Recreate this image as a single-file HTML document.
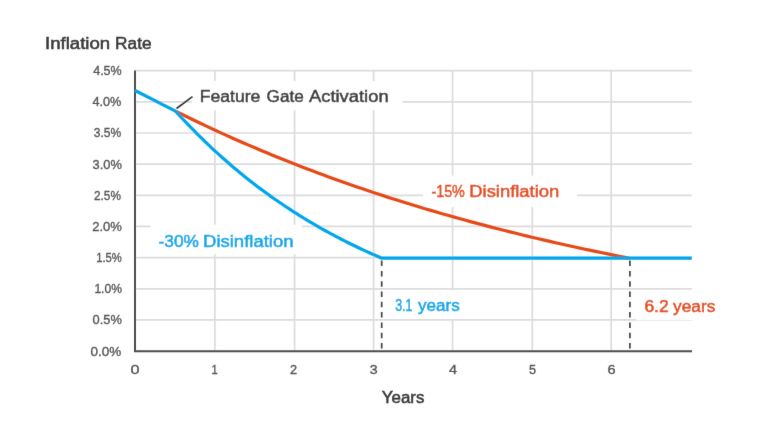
<!DOCTYPE html>
<html><head><meta charset="utf-8"><title>Inflation Rate</title>
<style>
html,body{margin:0;padding:0;background:#fff;width:768px;height:436px;overflow:hidden;}
svg{display:block;}
#w{width:768px;height:436px;}
text{font-family:"Liberation Sans",sans-serif;stroke-width:0.5px;paint-order:stroke;}
.tk text{stroke-width:0.35px;}
</style></head>
<body>
<div id="w"><svg width="768" height="436" viewBox="0 0 768 436">
<defs><filter id="bl" x="0" y="0" width="768" height="436" filterUnits="userSpaceOnUse"><feConvolveMatrix order="3" kernelMatrix="0.00524 0.06192 0.00524 0.06192 0.73137 0.06192 0.00524 0.06192 0.00524" divisor="1" preserveAlpha="false" edgeMode="none"/></filter></defs>
<rect width="768" height="436" fill="#fff"/>
<g filter="url(#bl)">
<g stroke="#dcdcdc" stroke-width="1.7" fill="none"><line x1="135" x2="691.8" y1="319.94" y2="319.94"/><line x1="135" x2="691.8" y1="288.78" y2="288.78"/><line x1="135" x2="691.8" y1="257.62" y2="257.62"/><line x1="135" x2="691.8" y1="226.46" y2="226.46"/><line x1="135" x2="691.8" y1="195.30" y2="195.30"/><line x1="135" x2="691.8" y1="164.14" y2="164.14"/><line x1="135" x2="691.8" y1="132.98" y2="132.98"/><line x1="135" x2="691.8" y1="101.82" y2="101.82"/><line x1="135" x2="691.8" y1="70.66" y2="70.66"/><line x1="214.9" x2="214.9" y1="70.6" y2="351"/><line x1="294.6" x2="294.6" y1="70.6" y2="351"/><line x1="373.6" x2="373.6" y1="70.6" y2="351"/><line x1="452.6" x2="452.6" y1="70.6" y2="351"/><line x1="532.3" x2="532.3" y1="70.6" y2="351"/><line x1="611.2" x2="611.2" y1="70.6" y2="351"/></g>
<g fill="#fff">
<rect x="192" y="81" width="210.5" height="29.4"/>
<rect x="423" y="175.6" width="154" height="31.4"/>
<rect x="150.5" y="224.7" width="151.2" height="29.5"/>
<rect x="386" y="290.4" width="82" height="28.6"/>
<rect x="636.4" y="290.4" width="80" height="29.8"/>
</g>
<g stroke="#4d4d4d" stroke-width="2" fill="none">
<line x1="135" y1="70.6" x2="135" y2="352"/>
<line x1="134" y1="351.2" x2="692" y2="351.2"/>
</g>
<g stroke="#444" stroke-width="1.7" stroke-dasharray="5.5 4.8" fill="none">
<line x1="381.7" y1="260.6" x2="381.7" y2="350"/>
<line x1="629.9" y1="260.6" x2="629.9" y2="350"/>
</g>
<path d="M175.50,111.10 L181.17,113.93 L186.84,116.73 L192.52,119.49 L198.19,122.22 L203.86,124.92 L209.53,127.59 L215.21,130.23 L220.88,132.83 L226.55,135.41 L232.22,137.95 L237.90,140.46 L243.57,142.95 L249.24,145.40 L254.91,147.83 L260.59,150.23 L266.26,152.59 L271.93,154.94 L277.61,157.25 L283.28,159.54 L288.95,161.79 L294.62,164.03 L300.29,166.23 L305.97,168.41 L311.64,170.57 L317.31,172.70 L322.99,174.80 L328.66,176.88 L334.33,178.94 L340.00,180.97 L345.67,182.97 L351.35,184.96 L357.02,186.92 L362.69,188.85 L368.36,190.77 L374.04,192.66 L379.71,194.52 L385.38,196.37 L391.05,198.20 L396.73,200.00 L402.40,201.78 L408.07,203.54 L413.74,205.28 L419.42,207.00 L425.09,208.70 L430.76,210.38 L436.43,212.04 L442.11,213.68 L447.78,215.30 L453.45,216.90 L459.12,218.49 L464.80,220.05 L470.47,221.60 L476.14,223.12 L481.81,224.63 L487.49,226.12 L493.16,227.60 L498.83,229.05 L504.50,230.49 L510.18,231.92 L515.85,233.32 L521.52,234.71 L527.19,236.08 L532.87,237.44 L538.54,238.78 L544.21,240.11 L549.88,241.41 L555.56,242.71 L561.23,243.99 L566.90,245.25 L572.57,246.50 L578.25,247.73 L583.92,248.95 L589.59,250.16 L595.26,251.35 L600.94,252.52 L606.61,253.69 L612.28,254.83 L617.95,255.97 L623.63,257.09 L629.30,258.20" stroke="#e64a19" stroke-width="3.2" fill="none" stroke-linejoin="round"/>
<path d="M135,90.5 L175.50,111.10 L178.08,113.93 L180.66,116.73 L183.23,119.49 L185.81,122.22 L188.39,124.92 L190.97,127.59 L193.54,130.23 L196.12,132.83 L198.70,135.41 L201.27,137.95 L203.85,140.46 L206.43,142.95 L209.01,145.40 L211.58,147.83 L214.16,150.23 L216.74,152.59 L219.32,154.94 L221.89,157.25 L224.47,159.54 L227.05,161.79 L229.63,164.03 L232.20,166.23 L234.78,168.41 L237.36,170.57 L239.94,172.70 L242.51,174.80 L245.09,176.88 L247.67,178.94 L250.25,180.97 L252.82,182.97 L255.40,184.96 L257.98,186.92 L260.56,188.85 L263.13,190.77 L265.71,192.66 L268.29,194.52 L270.87,196.37 L273.44,198.20 L276.02,200.00 L278.60,201.78 L281.18,203.54 L283.75,205.28 L286.33,207.00 L288.91,208.70 L291.49,210.38 L294.06,212.04 L296.64,213.68 L299.22,215.30 L301.80,216.90 L304.38,218.49 L306.95,220.05 L309.53,221.60 L312.11,223.12 L314.69,224.63 L317.26,226.12 L319.84,227.60 L322.42,229.05 L325.00,230.49 L327.57,231.92 L330.15,233.32 L332.73,234.71 L335.30,236.08 L337.88,237.44 L340.46,238.78 L343.04,240.11 L345.62,241.41 L348.19,242.71 L350.77,243.99 L353.35,245.25 L355.93,246.50 L358.50,247.73 L361.08,248.95 L363.66,250.16 L366.24,251.35 L368.81,252.52 L371.39,253.69 L373.97,254.83 L376.54,255.97 L379.12,257.09 L381.70,258.20 L691.8,258.2" stroke="#00a6eb" stroke-width="3.2" fill="none" stroke-linejoin="round"/>
<line x1="176.5" y1="108.5" x2="192.5" y2="96.6" stroke="#333" stroke-width="1.6"/>
<g class="tk" fill="#555" stroke="#555" font-size="13.4"><text x="90.60" y="355.60" textLength="30.75" lengthAdjust="spacingAndGlyphs">0.0%</text><text x="92.60" y="324.44" textLength="29.31" lengthAdjust="spacingAndGlyphs">0.5%</text><text x="94.40" y="293.28" textLength="27.48" lengthAdjust="spacingAndGlyphs">1.0%</text><text x="96.20" y="262.12" textLength="25.65" lengthAdjust="spacingAndGlyphs">1.5%</text><text x="92.20" y="230.96" textLength="29.72" lengthAdjust="spacingAndGlyphs">2.0%</text><text x="94.00" y="199.80" textLength="26.89" lengthAdjust="spacingAndGlyphs">2.5%</text><text x="92.60" y="168.64" textLength="29.31" lengthAdjust="spacingAndGlyphs">3.0%</text><text x="93.80" y="137.48" textLength="27.50" lengthAdjust="spacingAndGlyphs">3.5%</text><text x="92.40" y="106.32" textLength="28.92" lengthAdjust="spacingAndGlyphs">4.0%</text><text x="93.20" y="75.16" textLength="28.50" lengthAdjust="spacingAndGlyphs">4.5%</text><text x="130.60" y="374.4" textLength="9.03" lengthAdjust="spacingAndGlyphs">0</text><text x="214.5" y="374.4" text-anchor="middle" textLength="6.2" lengthAdjust="spacingAndGlyphs">1</text><text x="290.00" y="374.4" textLength="7.05" lengthAdjust="spacingAndGlyphs">2</text><text x="369.80" y="374.4" textLength="7.89" lengthAdjust="spacingAndGlyphs">3</text><text x="449.00" y="374.4" textLength="8.03" lengthAdjust="spacingAndGlyphs">4</text><text x="529.00" y="374.4" textLength="7.08" lengthAdjust="spacingAndGlyphs">5</text><text x="607.60" y="374.4" textLength="8.08" lengthAdjust="spacingAndGlyphs">6</text></g>
<text x="45.00" y="48.5" font-size="15.6" fill="#3a3a3a" stroke="#3a3a3a" textLength="65.16" lengthAdjust="spacingAndGlyphs">Inflation</text>
<text x="115.10" y="48.5" font-size="15.6" fill="#3a3a3a" stroke="#3a3a3a" textLength="36.45" lengthAdjust="spacingAndGlyphs">Rate</text>
<text x="381.80" y="403.2" font-size="16" fill="#3a3a3a" stroke="#3a3a3a" textLength="42.55" lengthAdjust="spacingAndGlyphs">Years</text>
<text x="199.70" y="102.3" font-size="16" fill="#3a3a3a" stroke="#3a3a3a" textLength="60.66" lengthAdjust="spacingAndGlyphs">Feature</text>
<text x="266.60" y="102.3" font-size="16" fill="#3a3a3a" stroke="#3a3a3a" textLength="37.07" lengthAdjust="spacingAndGlyphs">Gate</text>
<text x="308.94" y="102.3" font-size="16" fill="#3a3a3a" stroke="#3a3a3a" textLength="79.69" lengthAdjust="spacingAndGlyphs">Activation</text>
<text x="431.40" y="197.3" font-size="16" fill="#e64a19" stroke="#e64a19" textLength="33.44" lengthAdjust="spacingAndGlyphs">-15%</text>
<text x="469.25" y="197.3" font-size="16" fill="#e64a19" stroke="#e64a19" textLength="90.05" lengthAdjust="spacingAndGlyphs">Disinflation</text>
<text x="158.60" y="246.7" font-size="16" fill="#00a6eb" stroke="#00a6eb" textLength="40.33" lengthAdjust="spacingAndGlyphs">-30%</text>
<text x="203.04" y="246.7" font-size="16" fill="#00a6eb" stroke="#00a6eb" textLength="90.46" lengthAdjust="spacingAndGlyphs">Disinflation</text>
<text x="395.20" y="311.3" font-size="16" fill="#00a6eb" stroke="#00a6eb" textLength="17.20" lengthAdjust="spacingAndGlyphs">3.1</text>
<text x="418.06" y="311.3" font-size="16" fill="#00a6eb" stroke="#00a6eb" textLength="41.67" lengthAdjust="spacingAndGlyphs">years</text>
<text x="644.40" y="311.6" font-size="16" fill="#e64a19" stroke="#e64a19" textLength="24.28" lengthAdjust="spacingAndGlyphs">6.2</text>
<text x="673.07" y="311.6" font-size="16" fill="#e64a19" stroke="#e64a19" textLength="42.26" lengthAdjust="spacingAndGlyphs">years</text>

</g></svg></div>
</body></html>
